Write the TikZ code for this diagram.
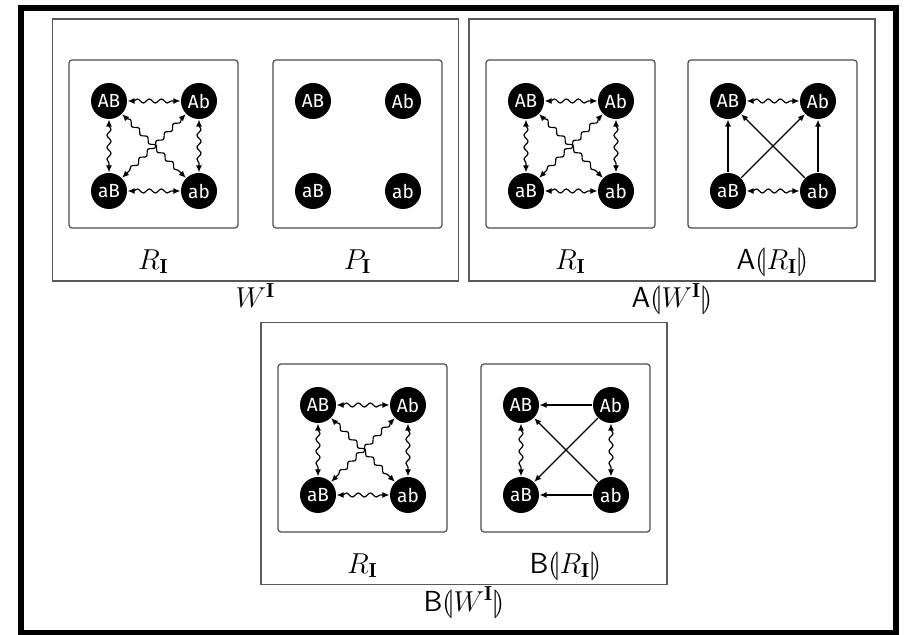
\documentclass[tikz,border=0pt]{standalone}
\usepackage{fontspec}
\usepackage{amsmath}
\usepackage{stmaryrd}
\newfontfamily\statefont{Fira Sans}
\usetikzlibrary{arrows.meta, positioning, decorations.pathmorphing}

\begin{document}
\begin{tikzpicture}[x=0.5pt, y=-0.5pt,
        state/.style={circle, fill=black, text=white, minimum size=18pt, inner sep=0pt, font=\statefont\fontsize{9.5}{11}\selectfont},
        panel/.style={rectangle, draw=black!70, rounded corners=1.5pt, minimum width=84.5pt, minimum height=84pt, inner sep=0pt},
        world/.style={rectangle, draw=black!65, minimum width=203pt, minimum height=131pt, inner sep=0pt},
        lbl/.style={anchor=base, inner sep=0pt, font=\fontsize{14.5}{17}\selectfont},
        wave/.style={<->, decorate, decoration={snake, amplitude=1pt, segment length=6pt, pre length=3pt, post length=3pt}},
        line width=0.6pt,
        >={Latex[length=3.5pt, width=3pt]}
    ]
        \useasboundingbox (0,0) rectangle (905,635);
        \draw[line width=3pt] (21,8) rectangle (896,633);
        % worlds
        \node[world] (w) at (255.5,150) {};
        \node[world] (aw) at (672,150) {};
        \node[world] (bw) at (464,453.5) {};
        \node[lbl] (w-name) at ([yshift=-13pt]w.south) {$W^{\mathbf I}$};
        \node[lbl] (aw-name) at ([yshift=-13pt]aw.south) {$\mathsf{A}\llparenthesis W^{\mathbf I}\rrparenthesis$};
        \node[lbl] (bw-name) at ([yshift=-13pt]bw.south) {$\mathsf{B}\llparenthesis W^{\mathbf I}\rrparenthesis$};
        % panels and states
        \foreach \p/\x/\y in {wr/69/60, wp/273/60, ar/486/60, aa/688/60, br/278/364, bb/481/364}{
            \node[panel] (\p) at (\x+84.5,\y+84) {};
            \node[state] (\p-AB) at (\x+40,\y+41) {AB};
            \node[state] (\p-Ab) at (\x+130,\y+41) {Ab};
            \node[state] (\p-aB) at (\x+40,\y+131) {aB};
            \node[state] (\p-ab) at (\x+130,\y+131) {ab};
        }
        \node[lbl] (wr-name) at ([yshift=-20.5pt]wr.south) {$R_{\mathbf I}$};
        \node[lbl] (wp-name) at ([yshift=-20.5pt]wp.south) {$P_{\mathbf I}$};
        \node[lbl] (ar-name) at ([yshift=-20.5pt]ar.south) {$R_{\mathbf I}$};
        \node[lbl] (aa-name) at ([yshift=-20.5pt]aa.south) {$\mathsf{A}\llparenthesis R_{\mathbf I}\rrparenthesis$};
        \node[lbl] (br-name) at ([yshift=-20.5pt]br.south) {$R_{\mathbf I}$};
        \node[lbl] (bb-name) at ([yshift=-20.5pt]bb.south) {$\mathsf{B}\llparenthesis R_{\mathbf I}\rrparenthesis$};
        % relation R
        \foreach \p in {wr, ar, br}{
            \draw[wave] (\p-AB) -- (\p-Ab);
            \draw[wave] (\p-aB) -- (\p-ab);
            \draw[wave] (\p-AB) -- (\p-aB);
            \draw[wave] (\p-Ab) -- (\p-ab);
            \draw[wave] (\p-AB) -- (\p-ab);
            \draw[wave] (\p-Ab) -- (\p-aB);
        }
        % A
        \draw[wave] (aa-AB) -- (aa-Ab);
        \draw[wave] (aa-aB) -- (aa-ab);
        \draw[->] (aa-aB) -- (aa-AB);
        \draw[->] (aa-ab) -- (aa-Ab);
        \draw[->] (aa-aB) -- (aa-Ab);
        \draw[->] (aa-ab) -- (aa-AB);
        % B
        \draw[wave] (bb-AB) -- (bb-aB);
        \draw[wave] (bb-Ab) -- (bb-ab);
        \draw[->] (bb-Ab) -- (bb-AB);
        \draw[->] (bb-ab) -- (bb-aB);
        \draw[->] (bb-Ab) -- (bb-aB);
        \draw[->] (bb-ab) -- (bb-AB);
    \end{tikzpicture}
\end{document}
